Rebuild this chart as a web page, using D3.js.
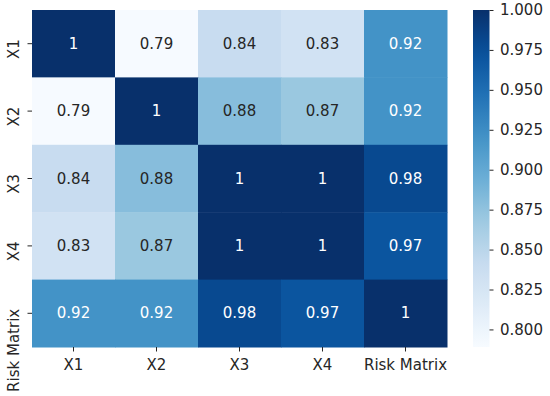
<!DOCTYPE html>
<html><head><meta charset="utf-8">
<script src="https://cdn.jsdelivr.net/npm/d3@7"></script>
<style>body{margin:0;background:#fff}svg{display:block;font-family:"DejaVu Sans",sans-serif}</style>
</head><body><svg id="c" width="550" height="396"></svg>
<script>
const labels = ["X1","X2","X3","X4","Risk Matrix"];
const matrix = [
  [1.00,0.79,0.84,0.83,0.92],
  [0.79,1.00,0.88,0.87,0.92],
  [0.84,0.88,1.00,1.00,0.98],
  [0.83,0.87,1.00,1.00,0.97],
  [0.92,0.92,0.98,0.97,1.00]
];
const cbTicks = [0.800,0.825,0.850,0.875,0.900,0.925,0.950,0.975,1.000];
const vmin = 0.789, vmax = 1.0;
const bluesStops = ["#f7fbff","#deebf7","#c6dbef","#9ecae1","#6baed6","#4292c6","#2171b5","#08519c","#08306b"];

const svg = d3.select("#c");
const L = 32, T = 10, W = 415, H = 337;
const x = d3.scaleBand().domain(labels).range([L, L+W]);
const y = d3.scaleBand().domain(labels).range([T, T+H]);
const norm = d3.scaleLinear().domain([vmin, vmax]).range([0,1]).clamp(true);
const cm = d3.scaleLinear().domain(d3.range(9).map(i=>i/8)).range(bluesStops).interpolate(d3.interpolateRgb);
const color = v => cm(norm(v));
function relLum(c){
  const f = v => { v/=255; return v<=0.03928 ? v/12.92 : Math.pow((v+0.055)/1.055,2.4); };
  const r = d3.rgb(c); return 0.2126*f(r.r)+0.7152*f(r.g)+0.0722*f(r.b);
}

const cells = [];
matrix.forEach((row,i)=>row.forEach((v,j)=>cells.push({r:labels[i],c:labels[j],v})));

svg.append("g").selectAll("rect").data(cells).join("rect")
  .attr("x",d=>x(d.c)).attr("y",d=>y(d.r))
  .attr("width",x.bandwidth()+0.5).attr("height",y.bandwidth()+0.5)
  .attr("fill",d=>color(d.v));

svg.append("g").selectAll("text").data(cells).join("text")
  .attr("x",d=>x(d.c)+x.bandwidth()/2).attr("y",d=>y(d.r)+y.bandwidth()/2)
  .attr("text-anchor","middle").attr("dominant-baseline","central")
  .attr("font-size",15)
  .attr("fill",d=>relLum(color(d.v))>0.408?"#262626":"#ffffff")
  .text(d=>d3.format("~g")(+d.v.toFixed(2)));

const xAxis = svg.append("g").attr("transform",`translate(0,${T+H})`)
  .call(d3.axisBottom(x).tickSize(4.5).tickPadding(7.5));
xAxis.select(".domain").remove();
xAxis.selectAll("text").attr("font-size",15).attr("fill","#262626").attr("font-family","DejaVu Sans");
xAxis.selectAll("line").attr("stroke","#262626");

const yAxis = svg.append("g").attr("transform",`translate(${L},0)`)
  .call(d3.axisLeft(y).tickSize(4.5));
yAxis.select(".domain").remove();
yAxis.selectAll("line").attr("stroke","#262626");
yAxis.selectAll(".tick text")
  .attr("font-size",15).attr("fill","#262626").attr("font-family","DejaVu Sans")
  .attr("x",0).attr("y",0).attr("dy",null)
  .attr("text-anchor","end")
  .attr("transform","translate(-13.5,-4.5) rotate(-90)");

// colorbar
const cbX = 473, cbW = 16.5;
const cy = d3.scaleLinear().domain([vmin, vmax]).range([T+H, T]);
const defs = svg.append("defs");
const grad = defs.append("linearGradient").attr("id","g").attr("x1",0).attr("y1",1).attr("x2",0).attr("y2",0);
grad.selectAll("stop").data(d3.range(0,1.0001,0.05)).join("stop")
  .attr("offset",d=>d).attr("stop-color",d=>cm(d));
svg.append("rect").attr("x",cbX).attr("y",T).attr("width",cbW).attr("height",H).attr("fill","url(#g)");
const cAxis = svg.append("g").attr("transform",`translate(${cbX+cbW},0)`)
  .call(d3.axisRight(cy).tickValues(cbTicks).tickFormat(d3.format(".3f")).tickSize(4).tickPadding(6.5));
cAxis.select(".domain").remove();
cAxis.selectAll("line").attr("stroke","#262626");
cAxis.selectAll("text").attr("font-size",15).attr("fill","#262626").attr("font-family","DejaVu Sans");
</script></body></html>
